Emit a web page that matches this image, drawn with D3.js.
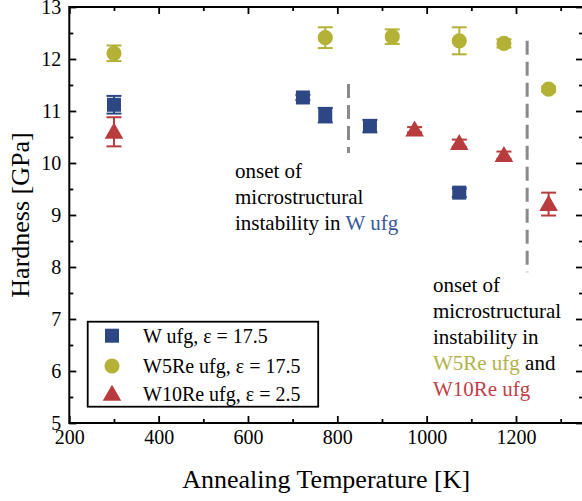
<!DOCTYPE html>
<html>
<head>
<meta charset="utf-8">
<script src="https://cdn.jsdelivr.net/npm/d3@7"></script>
<style>
  html, body { margin: 0; padding: 0; background: #fff; }
  svg { display: block; }
  text { font-family: "Liberation Serif", "Times New Roman", serif; }
</style>
</head>
<body>
<svg id="chart" width="582" height="501"></svg>
<script>
// Hardness after annealing, three ufg tungsten grades
const wTemps    = [300, 723, 773, 873, 1073];
const wHard     = [11.12, 11.26, 10.92, 10.71, 9.43];
const wErr      = [0.17, 0.05, 0.14, 0.12, 0.08];

const w5Temps   = [300, 773, 923, 1073, 1173, 1273];
const w5Hard    = [12.11, 12.41, 12.43, 12.35, 12.30, 11.42];
const w5Err     = [0.15, 0.20, 0.14, 0.26, 0.08, 0.05];

const w10Temps  = [300, 973, 1073, 1173, 1273];
const w10Hard   = [10.60, 10.64, 10.38, 10.15, 9.21];
const w10Err    = [0.28, 0.05, 0.07, 0.07, 0.22];

const seriesNames  = ["W ufg, \u03b5 = 17.5", "W5Re ufg, \u03b5 = 17.5", "W10Re ufg, \u03b5 = 2.5"];
const seriesShapes = ["square", "circle", "triangle"];

const xMajorTicks = [200, 400, 600, 800, 1000, 1200];
const xMinorTicks = [300, 500, 700, 900, 1100, 1300];
const yMajorTicks = [5, 6, 7, 8, 9, 10, 11, 12, 13];
const yMinorTicks = [5.5, 6.5, 7.5, 8.5, 9.5, 10.5, 11.5, 12.5];

// onset of microstructural instability (dashed markers)
const onsetTemps = [825, 1225];
const onsetLow   = [10.19, 7.9];
const onsetHigh  = [11.52, 12.35];

const colors = { square: "#2c4784", circle: "#b3b236", triangle: "#b83b3d" };
const textColors = { square: "#3a5999", circle: "#b2b24a", triangle: "#c0404a" };

const svg = d3.select("#chart");
const plotLeft = 69.3, plotRight = 583, plotTop = 7, plotBottom = 423;

const x = d3.scaleLinear().domain([200, 1350]).range([plotLeft, plotRight]);
const y = d3.scaleLinear().domain([5, 13]).range([plotBottom, plotTop]);

svg.append("rect").attr("width", 582).attr("height", 501).attr("fill", "#fff");

// axes: ticks point into the plot
function styleAxis(g) {
  g.select(".domain").remove();
  g.selectAll("line").attr("stroke", "#000").attr("stroke-width", 1.8);
  g.selectAll("text").attr("fill", "#000").style("font-size", "20px")
    .style("font-family", "'Liberation Serif', serif");
}

svg.append("g").attr("transform", `translate(0,${plotBottom})`)
  .call(d3.axisBottom(x).tickValues(xMinorTicks).tickSize(-4).tickFormat(""))
  .call(styleAxis);
svg.append("g").attr("transform", `translate(0,${plotBottom})`)
  .call(d3.axisBottom(x).tickValues(xMajorTicks).tickSize(-7).tickPadding(7).tickFormat(d3.format("d")))
  .call(styleAxis);
svg.append("g").attr("transform", `translate(0,${plotTop})`)
  .call(d3.axisTop(x).tickValues(xMinorTicks).tickSize(-4).tickFormat(""))
  .call(styleAxis);
svg.append("g").attr("transform", `translate(0,${plotTop})`)
  .call(d3.axisTop(x).tickValues(xMajorTicks).tickSize(-7).tickFormat(""))
  .call(styleAxis);

svg.append("g").attr("transform", `translate(${plotLeft},0)`)
  .call(d3.axisLeft(y).tickValues(yMinorTicks).tickSize(-4).tickFormat(""))
  .call(styleAxis);
svg.append("g").attr("transform", `translate(${plotLeft},0)`)
  .call(d3.axisLeft(y).tickValues(yMajorTicks).tickSize(-7).tickPadding(8).tickFormat(d3.format("d")))
  .call(styleAxis);
svg.append("g").attr("transform", `translate(${plotRight},0)`)
  .call(d3.axisRight(y).tickValues(yMinorTicks).tickSize(-4).tickFormat(""))
  .call(styleAxis);
svg.append("g").attr("transform", `translate(${plotRight},0)`)
  .call(d3.axisRight(y).tickValues(yMajorTicks).tickSize(-7).tickFormat(""))
  .call(styleAxis);

// frame
svg.append("rect")
  .attr("x", plotLeft).attr("y", plotTop)
  .attr("width", plotRight - plotLeft).attr("height", plotBottom - plotTop)
  .attr("fill", "none").attr("stroke", "#000").attr("stroke-width", 2);

// axis titles
svg.append("text")
  .attr("x", (plotLeft + plotRight) / 2).attr("y", 488)
  .attr("text-anchor", "middle").style("font-size", "26px")
  .text("Annealing Temperature [K]");
svg.append("text")
  .attr("transform", `translate(29,${y(9)}) rotate(-90)`)
  .attr("text-anchor", "middle").style("font-size", "26px")
  .text("Hardness [GPa]");

// onset lines
svg.append("g").selectAll("line")
  .data(onsetTemps.map((t, i) => ({ t, lo: onsetLow[i], hi: onsetHigh[i] })))
  .join("line")
  .attr("x1", d => x(d.t)).attr("x2", d => x(d.t))
  .attr("y1", d => y(d.hi)).attr("y2", d => y(d.lo))
  .attr("stroke", "#8a8a8a").attr("stroke-width", 3)
  .attr("stroke-dasharray", "14,7");

// marker shapes
const symbolFor = {
  square: d3.symbol(d3.symbolSquare, 196),
  circle: d3.symbol(d3.symbolCircle, 180),
  triangle: d3.symbol(d3.symbolTriangle, 150)
};

function drawSeries(temps, vals, errs, shape) {
  const pts = temps.map((t, i) => ({ t, v: vals[i], e: errs[i] }));
  const color = colors[shape];
  const g = svg.append("g");
  const capW = 7.5;
  // error bars
  const eb = g.selectAll("g.err").data(pts).join("g").attr("class", "err");
  eb.append("line")
    .attr("x1", d => x(d.t)).attr("x2", d => x(d.t))
    .attr("y1", d => y(d.v - d.e)).attr("y2", d => y(d.v + d.e))
    .attr("stroke", color).attr("stroke-width", 2);
  eb.append("line")
    .attr("x1", d => x(d.t) - capW).attr("x2", d => x(d.t) + capW)
    .attr("y1", d => y(d.v + d.e)).attr("y2", d => y(d.v + d.e))
    .attr("stroke", color).attr("stroke-width", 2);
  eb.append("line")
    .attr("x1", d => x(d.t) - capW).attr("x2", d => x(d.t) + capW)
    .attr("y1", d => y(d.v - d.e)).attr("y2", d => y(d.v - d.e))
    .attr("stroke", color).attr("stroke-width", 2);
  // markers
  g.selectAll("path.mk").data(pts).join("path").attr("class", "mk")
    .attr("d", symbolFor[shape])
    .attr("transform", d => `translate(${x(d.t)},${y(d.v) + (shape === "triangle" ? 1.5 : 0)})`)
    .attr("fill", color);
}

drawSeries(wTemps, wHard, wErr, "square");
drawSeries(w5Temps, w5Hard, w5Err, "circle");
drawSeries(w10Temps, w10Hard, w10Err, "triangle");

// annotations, anchored in data units; one line every half GPa
function annotate(t, h, lines) {
  const txt = svg.append("text").attr("x", x(t)).attr("y", y(h))
    .style("font-size", "21px").attr("fill", "#000");
  lines.forEach((parts, i) => {
    parts.forEach((p, j) => {
      const ts = txt.append("tspan").text(p.s);
      if (p.c) ts.attr("fill", textColors[p.c]);
      if (j === 0) ts.attr("x", x(t)).attr("y", y(h - 0.5 * i));
    });
  });
}

annotate(571, 9.71, [
  [{ s: "onset of" }],
  [{ s: "microstructural" }],
  [{ s: "instability in " }, { s: "W ufg", c: "square" }]
]);
annotate(1014, 7.52, [
  [{ s: "onset of" }],
  [{ s: "microstructural" }],
  [{ s: "instability in" }],
  [{ s: "W5Re ufg", c: "circle" }, { s: " and" }],
  [{ s: "W10Re ufg", c: "triangle" }]
]);

// legend
const legend = svg.append("g");
legend.append("rect")
  .attr("x", 87.7).attr("y", 321.7).attr("width", 230.5).attr("height", 85)
  .attr("fill", "#fff").attr("stroke", "#000").attr("stroke-width", 1.8);
const legendRows = [335.7, 366, 394];
seriesNames.forEach((name, i) => {
  const shape = seriesShapes[i];
  legend.append("path")
    .attr("d", symbolFor[shape])
    .attr("transform", `translate(112,${legendRows[i] + (shape === "triangle" ? 1.5 : 0)})`)
    .attr("fill", colors[shape]);
  legend.append("text")
    .attr("x", 143).attr("y", legendRows[i] + 7)
    .style("font-size", "20px").attr("fill", "#000")
    .text(name);
});
</script>
</body>
</html>
